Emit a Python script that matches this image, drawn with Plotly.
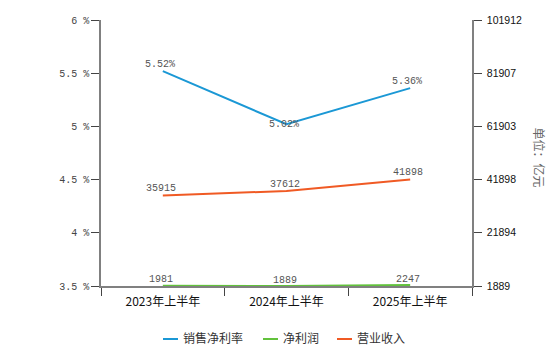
import plotly.graph_objects as go

# Half-year periods and financials
periods = ["2023年上半年", "2024年上半年", "2025年上半年"]
net_margin = [5.52, 5.02, 5.36]      # 销售净利率, %
net_profit = [1981, 1889, 2247]      # 净利润, 亿元
revenue = [35915, 37612, 41898]      # 营业收入, 亿元

# Axis ticks
pct_ticks = [3.5, 4, 4.5, 5, 5.5, 6]
pct_ticktext = ["3.5 %", "4 %", "4.5 %", "5 %", "5.5 %", "6 %"]
amount_ticks = [1889, 21894, 41898, 61903, 81907, 101912]

series_names = ["销售净利率", "净利润", "营业收入"]
series_colors = ["#1b98d5", "#62c23c", "#f05a24"]

W, H = 560, 346
L, R, T, B = 101, 88, 20, 60
plot_w = W - L - R
plot_h = H - T - B


def px_x(px):
    return (px - L) / plot_w


def px_y(py):
    return (H - B - py) / plot_h


mono = "Liberation Mono, DejaVu Sans Mono, monospace"
cjk = "Noto Sans CJK SC, sans-serif"
axis_grey = "#808080"

fig = go.Figure()
fig.add_trace(go.Scatter(x=periods, y=net_margin, mode="lines", name=series_names[0],
                         line=dict(color=series_colors[0], width=2), yaxis="y",
                         showlegend=False, hoverinfo="skip"))
fig.add_trace(go.Scatter(x=periods, y=net_profit, mode="lines", name=series_names[1],
                         line=dict(color=series_colors[1], width=2), yaxis="y2",
                         showlegend=False, hoverinfo="skip"))
fig.add_trace(go.Scatter(x=periods, y=revenue, mode="lines", name=series_names[2],
                         line=dict(color=series_colors[2], width=2), yaxis="y2",
                         showlegend=False, hoverinfo="skip"))

annotations = []
label_font = dict(family=mono, size=10, color="#555555")

# value labels
margin_shift = [7, 0, 7]
for p, v, s in zip(periods, net_margin, margin_shift):
    annotations.append(dict(x=p, y=v, xref="x", yref="y", text=f"{v:.2f}%",
                            showarrow=False, yshift=s, xshift=-3, font=label_font))
for p, v in zip(periods, net_profit):
    annotations.append(dict(x=p, y=v, xref="x", yref="y2", text=str(v),
                            showarrow=False, yshift=6, xshift=-2, font=label_font))
for p, v in zip(periods, revenue):
    annotations.append(dict(x=p, y=v, xref="x", yref="y2", text=str(v),
                            showarrow=False, yshift=7, xshift=-2, font=label_font))

# unit caption on the right
annotations.append(dict(x=px_x(550), y=px_y(157), xref="paper", yref="paper",
                        text="单位：亿元", textangle=90, showarrow=False,
                        font=dict(family=cjk, size=12, color="#666666")))

# legend drawn as short swatches with captions
shapes = []
legend_x = [163, 263, 337]
legend_y = 337
for name, color, lx in zip(series_names, series_colors, legend_x):
    shapes.append(dict(type="line", xref="paper", yref="paper",
                       x0=px_x(lx), x1=px_x(lx + 15), y0=px_y(legend_y + 2), y1=px_y(legend_y + 2),
                       line=dict(color=color, width=2)))
    annotations.append(dict(x=px_x(lx + 18), y=px_y(legend_y), xref="paper", yref="paper",
                            text=name, showarrow=False, xanchor="left", yanchor="middle",
                            font=dict(family=cjk, size=12, color="#333333")))

fig.update_layout(
    width=W, height=H,
    margin=dict(l=L, r=R, t=T, b=B, pad=0),
    paper_bgcolor="white", plot_bgcolor="white",
    showlegend=False,
    xaxis=dict(type="category", range=[-0.5, 2.5], showgrid=False, zeroline=False,
               showline=True, linecolor=axis_grey, linewidth=1.5,
               ticks="outside", tickson="boundaries", ticklen=8, tickcolor="#444444",
               ticklabelstandoff=4,
               tickfont=dict(family=cjk, size=12, color="#111111")),
    yaxis=dict(range=[3.5, 6], tickvals=pct_ticks, ticktext=pct_ticktext,
               showgrid=False, zeroline=False, showline=True, linecolor=axis_grey,
               linewidth=1.5, ticks="outside", ticklen=8, tickcolor="#444444",
               tickfont=dict(family=mono, size=10, color="#444444")),
    yaxis2=dict(range=[amount_ticks[0], amount_ticks[-1]], tickvals=amount_ticks,
                ticktext=[str(v) for v in amount_ticks], overlaying="y", side="right",
                showgrid=False, zeroline=False, showline=True, linecolor=axis_grey,
                linewidth=1.5, ticks="outside", ticklen=8, tickcolor="#444444",
                ticklabelstandoff=3,
                tickfont=dict(family="Liberation Sans, sans-serif", size=10.5, color="#111111")),
    annotations=annotations,
    shapes=shapes,
)

fig.write_html("out.html")
